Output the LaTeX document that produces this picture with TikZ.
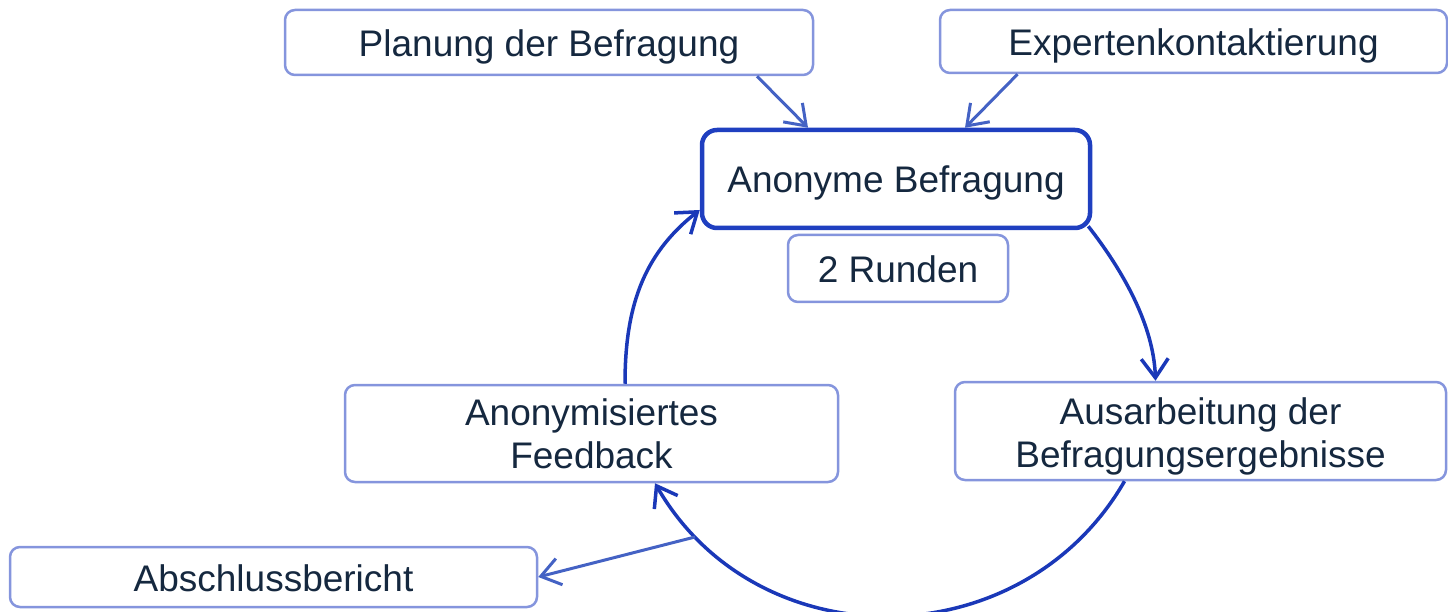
\documentclass[tikz,border=0pt]{standalone}
\usepackage{fontspec}
\setmainfont{Liberation Sans}
\usetikzlibrary{arrows.meta}
\definecolor{txt}{HTML}{15283F}
\definecolor{thinb}{HTML}{8595DD}
\definecolor{thickb}{HTML}{1F3FC0}
\definecolor{arrl}{HTML}{4462C4}
\definecolor{arrd}{HTML}{1A38B8}
\tikzset{
  box/.style={draw=thinb, line width=2.5pt, rounded corners=10pt, fill=white,
    text=txt, align=center, inner sep=0pt, font=\fontsize{37}{43}\selectfont},
  oneline/.style={text height=37pt, text depth=9pt},
  mainbox/.style={box, draw=thickb, line width=4.5pt, rounded corners=15pt},
  tipA/.style={-{Straight Barb[length=19pt,width=27pt]}},
  lightarrow/.style={tipA, draw=arrl, line width=3pt},
  darkarrow/.style={tipA, draw=arrd, line width=3.5pt},
}
\begin{document}
\begin{tikzpicture}[x=1pt,y=-1pt]
\useasboundingbox (0,0) rectangle (1448,612);
\node[box, oneline, minimum width=528pt, minimum height=65pt] (plan) at (549,42.5) {Planung der Befragung};
\node[box, oneline, minimum width=507pt, minimum height=63pt] (exp) at (1193.5,41.5) {Expertenkontaktierung};
\node[mainbox, oneline, minimum width=388pt, minimum height=98pt] (anon) at (896,179) {Anonyme Befragung};
\node[box, oneline, minimum width=220pt, minimum height=67pt] (runden) at (898,268.5) {2 Runden};
\node[box, minimum width=493pt, minimum height=97pt] (feed) at (591.5,433.5) {Anonymisiertes\\Feedback};
\node[box, minimum width=491pt, minimum height=98pt] (ausa) at (1200.5,431) {\rule{0pt}{37pt}Ausarbeitung der\\Befragungsergebnisse};
\node[box, oneline, minimum width=527pt, minimum height=60pt] (absch) at (273.5,577) {Abschlussbericht};

\draw[lightarrow] ([xshift=208pt]plan.south) -- ([xshift=-88pt]anon.north);
\draw[lightarrow] ([xshift=-176pt]exp.south) -- ([xshift=69pt]anon.north);

\draw[darkarrow] ([xshift=-4pt,yshift=4pt]anon.south east) to[out=-52,in=92,looseness=0.85] ([xshift=-45pt]ausa.north);
\draw[darkarrow] ([xshift=-76pt]ausa.south) to[out=-120,in=-60,looseness=1.12] ([xshift=63.5pt]feed.south);
\draw[darkarrow] ([xshift=33.5pt]feed.north) to[out=90,in=-142] ([yshift=-31pt]anon.west);

\coordinate (split) at (695,537);
\draw[lightarrow] (split) -- (absch.east);
\end{tikzpicture}
\end{document}
